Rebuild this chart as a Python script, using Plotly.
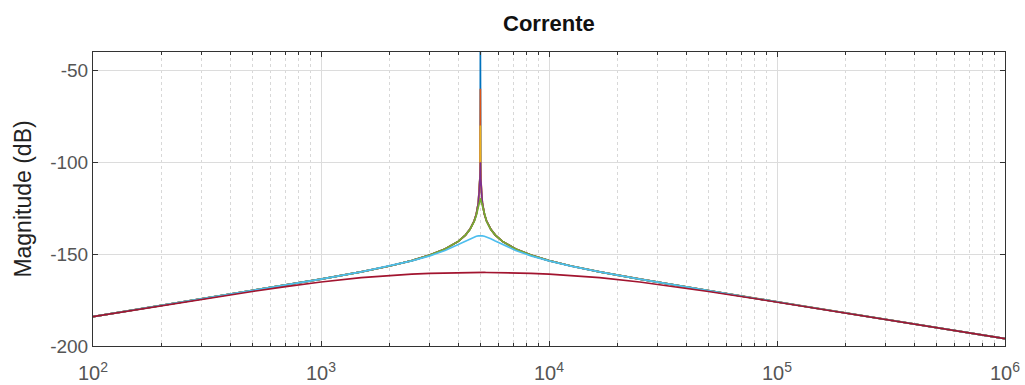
import plotly.graph_objects as go

# Frequency points (Hz)
freq = [100, 200, 300, 500, 700, 1000, 1500, 2000, 2500, 3000, 3500, 4000, 4300, 4500,
        4700, 4800, 4900, 4950, 4980, 4990, 4995, 5000, 5005, 5010, 5020, 5051, 5102,
        5208, 5319, 5556, 5814, 6250, 7143, 8333, 10000, 12500, 16667, 25000, 35714,
        50000, 83333, 125000, 250000, 500000, 1000000]

# Magnitudes (dB)
mag_blue = [-183.98, -177.95, -174.41, -169.91, -166.91, -163.62, -159.64, -156.44, -153.52,
            -150.56, -147.25, -143.06, -139.62, -136.49, -131.86, -128.24, -122.13, -116.06,
            -108.08, -102.05, -96.02, -39.98, -96.02, -102.05, -108.08, -116.06, -122.13,
            -128.24, -131.86, -136.49, -139.62, -143.06, -147.25, -150.56, -153.52, -156.44,
            -159.64, -163.62, -166.91, -169.91, -174.41, -177.95, -183.98, -190.00, -196.02]
mag_orange = [-183.98, -177.95, -174.41, -169.91, -166.91, -163.62, -159.64, -156.44, -153.52,
              -150.56, -147.25, -143.06, -139.62, -136.49, -131.86, -128.24, -122.13, -116.06,
              -108.08, -102.05, -96.03, -59.98, -96.03, -102.05, -108.08, -116.06, -122.13,
              -128.24, -131.86, -136.49, -139.62, -143.06, -147.25, -150.56, -153.52, -156.44,
              -159.64, -163.62, -166.91, -169.91, -174.41, -177.95, -183.98, -190.00, -196.02]
mag_yellow = [-183.98, -177.95, -174.41, -169.91, -166.91, -163.62, -159.64, -156.44, -153.52,
              -150.56, -147.25, -143.06, -139.62, -136.49, -131.86, -128.24, -122.13, -116.06,
              -108.09, -102.08, -96.13, -79.98, -96.13, -102.08, -108.09, -116.06, -122.13,
              -128.24, -131.86, -136.49, -139.62, -143.06, -147.25, -150.56, -153.52, -156.44,
              -159.64, -163.62, -166.91, -169.91, -174.41, -177.95, -183.98, -190.00, -196.02]
mag_purple = [-183.98, -177.95, -174.41, -169.91, -166.91, -163.62, -159.64, -156.44, -153.52,
              -150.56, -147.25, -143.06, -139.62, -136.49, -131.86, -128.25, -122.16, -116.17,
              -108.71, -104.15, -101.45, -99.98, -101.45, -104.15, -108.71, -116.17, -122.16,
              -128.25, -131.86, -136.49, -139.62, -143.06, -147.25, -150.56, -153.52, -156.44,
              -159.64, -163.62, -166.91, -169.91, -174.41, -177.95, -183.98, -190.00, -196.02]
mag_green = [-183.98, -177.95, -174.41, -169.91, -166.91, -163.62, -159.64, -156.45, -153.52,
             -150.56, -147.26, -143.09, -139.67, -136.59, -132.13, -128.85, -124.20, -121.46,
             -120.25, -120.05, -120.00, -119.98, -120.00, -120.05, -120.25, -121.46, -124.20,
             -128.85, -132.13, -136.59, -139.67, -143.09, -147.26, -150.56, -153.52, -156.45,
             -159.64, -163.62, -166.91, -169.91, -174.41, -177.95, -183.98, -190.00, -196.02]
mag_cyan = [-183.98, -177.95, -174.41, -169.92, -166.91, -163.64, -159.69, -156.54, -153.71,
            -150.93, -148.00, -144.80, -142.82, -141.59, -140.60, -140.26, -140.05, -140.00,
            -139.98, -139.98, -139.98, -139.98, -139.98, -139.98, -139.98, -140.00, -140.05,
            -140.26, -140.60, -141.59, -142.82, -144.80, -148.00, -150.93, -153.71, -156.54,
            -159.69, -163.64, -166.91, -169.92, -174.41, -177.95, -183.98, -190.00, -196.02]
mag_red = [-183.99, -178.01, -174.56, -170.33, -167.71, -165.18, -162.82, -161.57, -160.87,
           -160.45, -160.21, -160.07, -160.02, -160.00, -159.99, -159.98, -159.98, -159.98,
           -159.98, -159.98, -159.98, -159.98, -159.98, -159.98, -159.98, -159.98, -159.98,
           -159.98, -159.99, -160.00, -160.02, -160.07, -160.21, -160.45, -160.87, -161.57,
           -162.82, -165.18, -167.71, -170.33, -174.56, -178.01, -183.99, -190.00, -196.02]

series = [
    ("blue", mag_blue, "#0072BD"),
    ("orange", mag_orange, "#D95319"),
    ("yellow", mag_yellow, "#EDB120"),
    ("purple", mag_purple, "#7E2F8E"),
    ("green", mag_green, "#77AC30"),
    ("cyan", mag_cyan, "#4DBEEE"),
    ("red", mag_red, "#A2142F"),
]

x_tickvals = [1e2, 1e3, 1e4, 1e5, 1e6]
x_ticktext = ["10<sup>2</sup>", "10<sup>3</sup>", "10<sup>4</sup>", "10<sup>5</sup>", "10<sup>6</sup>"]
y_tickvals = [-200, -150, -100, -50]
y_ticktext = ["-200", "-150", "-100", "-50"]

fig = go.Figure()
for name, vals, col in series:
    fig.add_trace(go.Scatter(x=freq, y=vals, mode="lines", name=name,
                             line=dict(color=col, width=1.7), showlegend=False))

axis_col = "#555555"
fig.update_layout(
    width=1025, height=385,
    paper_bgcolor="white", plot_bgcolor="white",
    margin=dict(l=93, r=20, t=52, b=39, autoexpand=False),
    font=dict(family="Liberation Sans, Arial, sans-serif", color=axis_col, size=19),
    title=dict(text="<b>Corrente</b>", x=0.5355, xanchor="center", y=0.94, yanchor="middle",
               font=dict(size=22, color="#111111")),
)
fig.update_xaxes(
    type="log", range=[2, 6],
    tickvals=x_tickvals, ticktext=x_ticktext,
    ticks="inside", ticklen=5, tickcolor="#333333",
    showline=True, linecolor="#333333", linewidth=1, mirror="ticks",
    showgrid=True, gridcolor="#dcdcdc", gridwidth=1,
    zeroline=False, tickfont=dict(size=20, color=axis_col),
    ticklabelstandoff=9, ticklabeloverflow="allow",
    minor=dict(dtick="D1", ticks="inside", ticklen=3, tickcolor="#333333",
               showgrid=True, gridcolor="#d8d8d8", griddash="dot", gridwidth=1),
)
fig.update_yaxes(
    range=[-200, -40], tickvals=y_tickvals, ticktext=y_ticktext,
    ticks="inside", ticklen=5, tickcolor="#333333",
    showline=True, linecolor="#333333", linewidth=1, mirror="ticks",
    showgrid=True, gridcolor="#dcdcdc", gridwidth=1,
    zeroline=False, tickfont=dict(size=19, color=axis_col),
    title=dict(text="Magnitude (dB)", font=dict(size=23, color="#222222"), standoff=12),
)

fig.write_html("out.html", config={"displayModeBar": False},
               post_script="document.body.style.margin='0';document.body.style.overflow='hidden';")
